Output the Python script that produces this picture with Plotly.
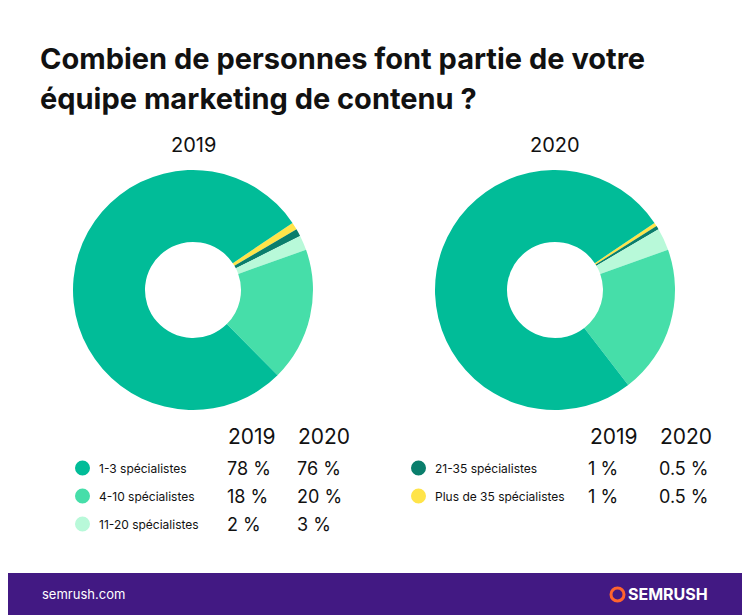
import plotly.graph_objects as go

categories = ["Plus de 35 spécialistes", "21-35 spécialistes", "11-20 spécialistes", "4-10 spécialistes", "1-3 spécialistes"]
values_2019 = [1, 1, 2, 18, 78]
values_2020 = [0.5, 0.5, 3, 20, 76]
colors = ["#FFE449", "#0A7E6C", "#B8F9D9", "#46DEA9", "#01BC98"]
legend_left = ["1-3 spécialistes", "4-10 spécialistes", "11-20 spécialistes"]
left_2019 = ["78 %", "18 %", "2 %"]
left_2020 = ["76 %", "20 %", "3 %"]
legend_right = ["21-35 spécialistes", "Plus de 35 spécialistes"]
right_2019 = ["1 %", "1 %"]
right_2020 = ["0.5 %", "0.5 %"]
left_colors = ["#01BC98", "#46DEA9", "#B8F9D9"]
right_colors = ["#0A7E6C", "#FFE449"]

W, H = 750, 615
OFF = 8  # page body margin offset
def px(x): return (x - OFF) / W
def py(y): return 1 - (y - OFF) / H

fig = go.Figure()
for vals, x0 in [(values_2019, 73), (values_2020, 435)]:
    fig.add_trace(go.Pie(labels=categories, values=vals, hole=0.4, sort=False,
                         direction="clockwise", rotation=56,
                         marker=dict(colors=colors, line=dict(width=0)),
                         textinfo="none", hoverinfo="label+value",
                         domain=dict(x=[px(x0), px(x0 + 240)], y=[py(410), py(170)])))

F = "Inter"
ann = []
shapes = []
def txt(x, y, t, size, color="#111", bold=False, xanchor="left"):
    ann.append(dict(x=px(x), y=py(y), xref="paper", yref="paper", text=f"<b>{t}</b>" if bold else t,
                    showarrow=False, xanchor=xanchor, yanchor="middle",
                    font=dict(family=F, size=size, color=color)))

txt(38, 58, "Combien de personnes font partie de votre", 29, bold=True)
txt(38, 98, "équipe marketing de contenu ?", 29, bold=True)
txt(193, 145, "2019", 20, xanchor="center")
txt(555, 145, "2020", 20, xanchor="center")

txt(226, 437, "2019", 21)
txt(296, 437, "2020", 21)
for i, lab in enumerate(legend_left):
    y = 468 + i * 28
    shapes.append(dict(type="circle", xref="paper", yref="paper", x0=px(75), x1=px(90), y0=py(y + 7.5), y1=py(y - 7.5),
                       fillcolor=left_colors[i], line=dict(width=0)))
    txt(97, y, lab, 12)
    txt(225, y, left_2019[i], 18)
    txt(295, y, left_2020[i], 18)

txt(588, 437, "2019", 21)
txt(658, 437, "2020", 21)
for i, lab in enumerate(legend_right):
    y = 468 + i * 28
    shapes.append(dict(type="circle", xref="paper", yref="paper", x0=px(411), x1=px(426), y0=py(y + 7.5), y1=py(y - 7.5),
                       fillcolor=right_colors[i], line=dict(width=0)))
    txt(433, y, lab, 12)
    txt(586, y, right_2019[i], 18)
    txt(657, y, right_2020[i], 18)

shapes.append(dict(type="rect", xref="paper", yref="paper", x0=0, x1=1, y0=0, y1=py(573),
                   fillcolor="#421983", line=dict(width=0), layer="below"))
txt(40, 594, "semrush.com", 13, color="#FFFFFF")
txt(710, 594, "SEMRUSH", 16, color="#FFFFFF", bold=True, xanchor="right")
shapes.append(dict(type="circle", xref="paper", yref="paper", x0=px(611), x1=px(624), y0=py(601), y1=py(588),
                   fillcolor="rgba(0,0,0,0)", line=dict(color="#FF642D", width=3)))

fig.update_layout(width=W, height=H, margin=dict(l=0, r=0, t=0, b=0), showlegend=False,
                  paper_bgcolor="white", annotations=ann, shapes=shapes)
fig.write_html("out.html")
